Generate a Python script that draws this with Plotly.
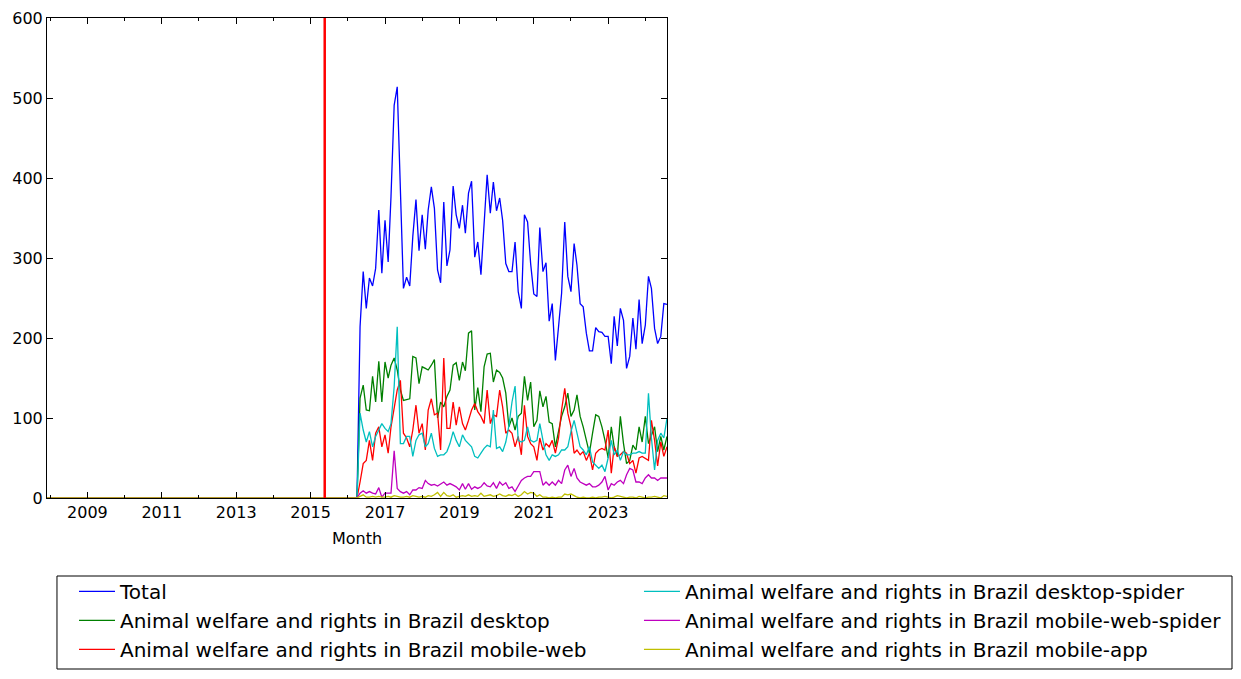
import pandas as pd
import plotly.graph_objects as go

# ---------------- data ----------------
START_MONTH = "2007-12-01"
END_MONTH = "2024-08-01"
FIRST_DATA_MONTH = "2016-05-01"   # all series are zero before this month
EVENT_DATE = "2015-05-20"          # red vertical marker

total = [
    214, 283, 237, 275, 265, 287, 360, 281,
    347, 295, 377, 491, 514, 381, 262, 276, 265, 327, 373, 309,
    354, 311, 360, 389, 362, 285, 269, 370, 290, 310, 390, 354,
    337, 366, 331, 381, 396, 301, 320, 279, 343, 404, 356, 395,
    359, 375, 347, 293, 283, 283, 320, 258, 237, 354, 345, 293,
    255, 252, 338, 283, 294, 221, 243, 172, 214, 256, 345, 277,
    258, 318, 291, 243, 239, 206, 184, 184, 213, 208, 207, 202,
    202, 168, 227, 190, 237, 222, 162, 177, 225, 186, 248, 193,
    216, 277, 262, 212, 193, 202, 243, 242,
]
desktop = [
    125, 141, 110, 109, 152, 120, 171, 120,
    170, 150, 166, 175, 160, 135, 122, 123, 124, 177, 175, 143,
    164, 162, 160, 166, 173, 100, 120, 114, 127, 135, 166, 169,
    147, 170, 159, 206, 209, 110, 138, 108, 164, 180, 181, 145,
    160, 157, 150, 131, 89, 100, 85, 102, 106, 152, 122, 145,
    89, 97, 134, 114, 127, 95, 93, 64, 85, 102, 114, 131,
    102, 110, 129, 102, 89, 72, 56, 81, 104, 102, 89, 72,
    50, 89, 64, 52, 102, 68, 43, 47, 66, 60, 89, 70,
    102, 68, 77, 89, 58, 77, 60, 77,
]
mobile_web = [
    20, 43, 47, 72, 47, 81, 89, 64,
    79, 56, 89, 114, 135, 147, 81, 75, 64, 85, 116, 81,
    93, 60, 110, 124, 104, 106, 60, 175, 87, 87, 120, 91,
    114, 93, 85, 97, 110, 118, 108, 102, 93, 135, 93, 104,
    102, 135, 114, 81, 85, 81, 64, 77, 54, 116, 77, 68,
    64, 47, 75, 60, 68, 64, 72, 56, 75, 110, 137, 106,
    89, 56, 60, 54, 58, 47, 56, 35, 56, 60, 62, 60,
    85, 31, 64, 52, 54, 58, 56, 43, 47, 31, 50, 52,
    50, 47, 97, 72, 40, 70, 52, 64,
]
desktop_spider = [
    106, 85, 70, 83, 64, 77, 85, 93,
    87, 83, 93, 139, 214, 68, 68, 77, 77, 52, 72, 79,
    81, 64, 68, 81, 62, 52, 54, 54, 58, 68, 83, 72,
    64, 79, 72, 68, 64, 52, 50, 56, 62, 66, 64, 110,
    62, 64, 58, 70, 90, 120, 140, 72, 70, 72, 89, 72,
    70, 72, 93, 72, 54, 47, 54, 52, 54, 60, 60, 64,
    83, 97, 81, 64, 60, 54, 64, 45, 41, 37, 41, 33,
    50, 72, 54, 60, 47, 58, 54, 54, 56, 56, 58, 56,
    56, 131, 75, 35, 72, 81, 75, 100,
]
mobile_web_spider = [
    6, 9, 6, 8, 6, 5, 13, 1,
    6, 6, 6, 59, 12, 8, 6, 8, 4, 10, 10, 13,
    12, 22, 18, 16, 17, 15, 17, 20, 16, 18, 16, 14,
    10, 18, 11, 18, 11, 14, 12, 14, 19, 15, 14, 19,
    12, 20, 16, 19, 12, 14, 8, 16, 22, 25, 27, 27,
    33, 33, 33, 16, 20, 16, 20, 16, 22, 18, 35, 41,
    27, 37, 25, 20, 18, 16, 18, 14, 14, 16, 20, 27,
    10, 18, 16, 20, 22, 18, 29, 37, 35, 20, 20, 18,
    25, 29, 25, 25, 22, 25, 25, 25,
]
mobile_app = [
    2, 4, 1, 1, 2, 1, 2, 1,
    1, 2, 1, 3, 2, 1, 1, 2, 1, 3, 2, 1,
    2, 1, 3, 2, 4, 7, 2, 7, 3, 2, 4, 1,
    2, 3, 2, 4, 2, 3, 2, 6, 2, 3, 4, 2,
    3, 5, 3, 2, 4, 3, 5, 2, 4, 8, 5, 7,
    6, 2, 4, 1, 1, 0, 1, 0, 1, 1, 5, 4,
    5, 3, 1, 0, 1, 0, 0, 1, 0, 1, 1, 2,
    1, 0, 1, 3, 2, 1, 0, 1, 1, 0, 2, 1,
    0, 1, 1, 2, 1, 0, 3, 2,
]

series_names = [
    "Total",
    "Animal welfare and rights in Brazil desktop",
    "Animal welfare and rights in Brazil mobile-web",
    "Animal welfare and rights in Brazil desktop-spider",
    "Animal welfare and rights in Brazil mobile-web-spider",
    "Animal welfare and rights in Brazil mobile-app",
]
series_values = [total, desktop, mobile_web, desktop_spider, mobile_web_spider, mobile_app]
series_colors = ["#0000ff", "#008000", "#ff0000", "#00bfbf", "#bf00bf", "#bfbf00"]
legend_columns = ["legend", "legend", "legend", "legend2", "legend2", "legend2"]

# ---------------- build ----------------
months = pd.date_range(START_MONTH, END_MONTH, freq="MS")
n_zero = len(pd.date_range(START_MONTH, FIRST_DATA_MONTH, freq="MS")) - 1

fig = go.Figure()
for name, vals, col, leg in zip(series_names, series_values, series_colors, legend_columns):
    y = [0] * n_zero + list(vals)
    fig.add_trace(go.Scatter(
        x=months, y=y, mode="lines", name=name, legend=leg,
        line=dict(color=col, width=1.3),
    ))

fig.add_shape(type="line", xref="x", yref="paper", x0=EVENT_DATE, x1=EVENT_DATE,
              y0=0, y1=1, line=dict(color="#ff0000", width=2.5))

# legend frame (drawn as a paper-referenced rectangle)
fig.add_shape(type="rect", xref="paper", yref="paper",
              x0=0.0161, x1=1.9113, y0=-0.35625, y1=-0.1625,
              line=dict(color="black", width=1), fillcolor="rgba(0,0,0,0)", layer="below")

font_family = "DejaVu Sans, sans-serif"
legend_common = dict(
    orientation="v", yanchor="top", xanchor="left", itemwidth=36,
    borderwidth=0, bgcolor="rgba(0,0,0,0)", tracegroupgap=0,
    font=dict(size=20, family=font_family),
)
fig.update_layout(
    width=1241, height=679,
    margin=dict(l=39, r=582, t=10, b=189, autoexpand=False),
    paper_bgcolor="white", plot_bgcolor="white",
    font=dict(family=font_family, size=16, color="black"),
    showlegend=True,
    legend=dict(x=0.04355, y=-0.154, **legend_common),
    legend2=dict(x=0.9548, y=-0.154, **legend_common),
    xaxis=dict(
        range=[months[0], months[-1]],
        showgrid=False, zeroline=False,
        showline=True, linecolor="black", linewidth=1, mirror="ticks",
        ticks="inside", ticklen=6, tickcolor="black",
        tick0="2009-01-01", dtick="M24", tickformat="%Y",
        minor=dict(ticks="inside", ticklen=3, tickcolor="black", dtick="M12", tick0="2008-01-01", showgrid=False),
        title=dict(text="Month", standoff=11, font=dict(size=16)),
        tickfont=dict(size=16),
    ),
    yaxis=dict(
        range=[0, 600], dtick=100,
        showgrid=False, zeroline=False,
        showline=True, linecolor="black", linewidth=1, mirror="ticks",
        ticks="inside", ticklen=6, tickcolor="black",
        tickfont=dict(size=16),
    ),
)

fig.write_html("out.html")
